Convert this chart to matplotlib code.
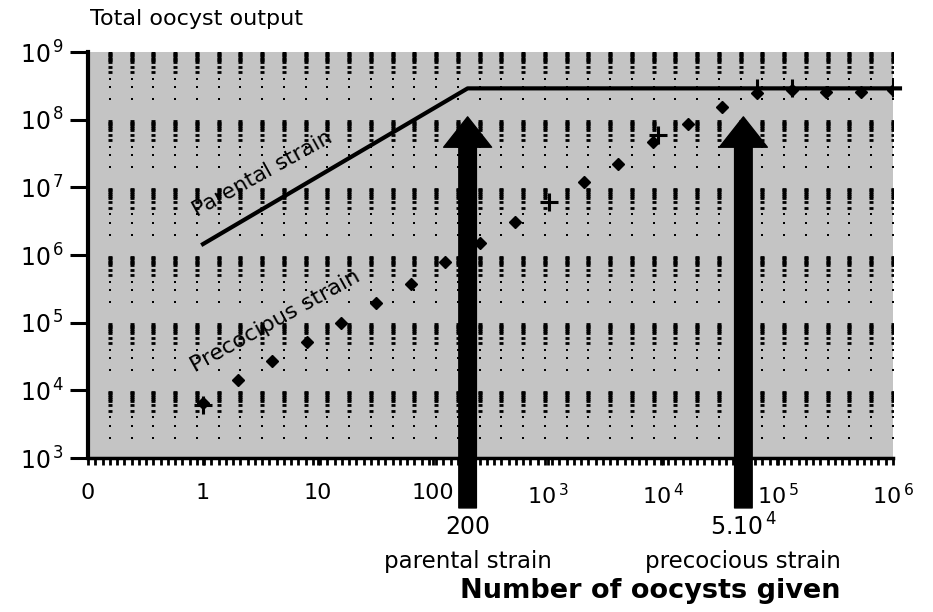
import numpy as np
import matplotlib.pyplot as plt
from matplotlib.ticker import FixedLocator, NullFormatter

plt.rcParams['font.family'] = 'DejaVu Sans'
plt.rcParams['mathtext.fontset'] = 'dejavusans'

# precocious strain, doubling doses (filled points)
prec_dose = [1, 2, 4, 8, 16, 32, 64, 128, 256, 512, 2048, 4096, 8192,
             16384, 32768, 65536, 131072, 262144, 524288, 1e6]
prec_output = [6.4e3, 1.4e4, 2.7e4, 5.2e4, 1.0e5, 1.95e5, 3.7e5, 7.9e5,
               1.5e6, 3.1e6, 1.2e7, 2.2e7, 4.6e7, 8.5e7, 1.55e8, 2.5e8,
               2.7e8, 2.6e8, 2.6e8, 2.7e8]
# precocious strain, second set (crosses)
cross_dose = [1, 1024, 9000, 65536, 131072, 1e6]
cross_output = [6.0e3, 6.0e6, 6.0e7, 2.9e8, 2.9e8, 2.9e8]

# parental strain: linear rise then plateau
parent_dose = [1, 200, 1.15e6]
parent_output = [1.45e6, 2.9e8, 2.9e8]

# arrows for the crowding threshold
arrow_dose = [200, 5e4]
arrow_top = 1.1e8
arrow_value = ['200', r'5.10$^{\,4}$']
arrow_strain = ['parental strain', 'precocious strain']

y_ticks = [1e3, 1e4, 1e5, 1e6, 1e7, 1e8, 1e9]
y_labels = [r'10$^{\,%d}$' % p for p in range(3, 10)]
x_ticks = [0.1, 1, 10, 100, 1e3, 1e4, 1e5, 1e6]
x_labels = ['0', '1', '10', '100', r'10$^{\,3}$', r'10$^{\,4}$',
            r'10$^{\,5}$', r'10$^{\,6}$']

#%%
fig = plt.figure(figsize=(9.33, 6.12), dpi=100)
ax = fig.add_axes([88 / 933, 154 / 612, 805 / 933, 406 / 612])
ax.set_xscale('log')
ax.set_yscale('log')
ax.set_xlim(0.1, 1e6)
ax.set_ylim(1e3, 1e9)
ax.set_facecolor('#c4c4c4')

# dashed columns of the background grid: bold bar near the top of each
# decade, small dots lower down
cols = 10 ** (-1 + 7 * np.arange(1, 38) / 37)
k_bar = [5, 6, 7, 7.5, 8, 8.5, 9, 9.5]
k_dot = [2, 3, 4]
y_bar = [k * 10 ** n for n in range(2, 9) for k in k_bar] + [1e9]
y_dot = [k * 10 ** n for n in range(3, 9) for k in k_dot]
gx, gy = np.meshgrid(cols, y_bar)
ax.plot(gx.ravel(), gy.ravel(), ls='none', marker='_', ms=3.5, mew=2,
        color='black', zorder=1)
gx, gy = np.meshgrid(cols, y_dot)
ax.plot(gx.ravel(), gy.ravel(), ls='none', marker='s', ms=2, mew=0,
        color='black', zorder=1)

ax.plot(parent_dose, parent_output, color='black', lw=3, clip_on=False, zorder=3)
ax.plot(prec_dose, prec_output, ls='none', marker='D', ms=6.5, color='black', zorder=3)
ax.plot(cross_dose, cross_output, ls='none', marker='+', ms=13, mew=2.2,
        color='black', zorder=3)

ax.text(3.3, 1.6e7, 'Parental strain', rotation=29, fontsize=15.5,
        ha='center', va='center')
ax.text(4.3, 1.05e5, 'Precocipus strain', rotation=29, fontsize=16,
        ha='center', va='center')

xtr = ax.get_xaxis_transform()
for xd, val, strain in zip(arrow_dose, arrow_value, arrow_strain):
    ax.annotate('', xy=(xd, arrow_top), xycoords='data',
                xytext=(xd, -0.123), textcoords=xtr,
                arrowprops=dict(arrowstyle='simple,head_length=0.95,head_width=1.5,tail_width=0.55',
                                mutation_scale=23, fc='black', ec='black',
                                shrinkA=0, shrinkB=0),
                annotation_clip=False, zorder=4)
    ax.text(xd, -0.17, val, transform=xtr, fontsize=17, ha='center', va='center')
    ax.text(xd, -0.256, strain, transform=xtr, fontsize=16.5, ha='center', va='center')

for s in ['top', 'right']:
    ax.spines[s].set_visible(False)
ax.spines['left'].set_linewidth(3)
ax.spines['bottom'].set_linewidth(2.5)

ax.yaxis.set_major_locator(FixedLocator(y_ticks))
ax.set_yticklabels(y_labels)
ax.yaxis.set_minor_locator(FixedLocator([]))
ax.tick_params(axis='y', which='major', length=13, width=2.2, pad=4, labelsize=17)

ax.xaxis.set_major_locator(FixedLocator(x_ticks))
ax.set_xticklabels(x_labels)
ax.xaxis.set_minor_locator(FixedLocator(10 ** (-1 + 7 * np.arange(1, 111) / 111)))
ax.xaxis.set_minor_formatter(NullFormatter())
ax.tick_params(axis='x', which='both', length=5, width=2, pad=13, labelsize=16)

fig.text(90 / 933, 1 - 19 / 612, 'Total oocyst output', fontsize=16,
         ha='left', va='center')
fig.text(650 / 933, 1 - 591 / 612, 'Number of oocysts given', fontsize=19.5,
         fontweight='bold', ha='center', va='center')

fig.savefig('out.png', dpi=100)
